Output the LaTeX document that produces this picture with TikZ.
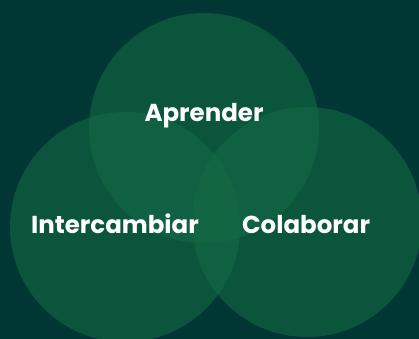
\documentclass[tikz,border=0pt]{standalone}
\usepackage{fontspec}
\setmainfont{Poppins}
\usepackage{tikz}
\definecolor{bgteal}{RGB}{0,54,52}
\definecolor{venn}{RGB}{20,106,68}

\begin{document}
\begin{tikzpicture}[x=1pt,y=-1pt,
                    circ/.style={circle,fill=venn,fill opacity=0.6,
                                 minimum size=230pt,inner sep=0pt},
                    lbl/.style={text=white,anchor=base,
                                font=\bfseries\fontsize{24.5}{24.5}\selectfont}]
  \useasboundingbox (0,0) rectangle (419,338);
  \clip (0,0) rectangle (419,338);
  \fill[bgteal] (-2,-2) rectangle (421,340);

  \node[circ] (top)   at (204,128) {};
  \node[circ] (left)  at (125,227) {};
  \node[circ] (right) at (307,222) {};

  \node[lbl] (aprender)     at (204,121) {Aprender};
  \node[lbl] (intercambiar) at (115,233) {Intercambiar};
  \node[lbl] (colaborar)    at (306,233) {Colaborar};
\end{tikzpicture}
\end{document}
